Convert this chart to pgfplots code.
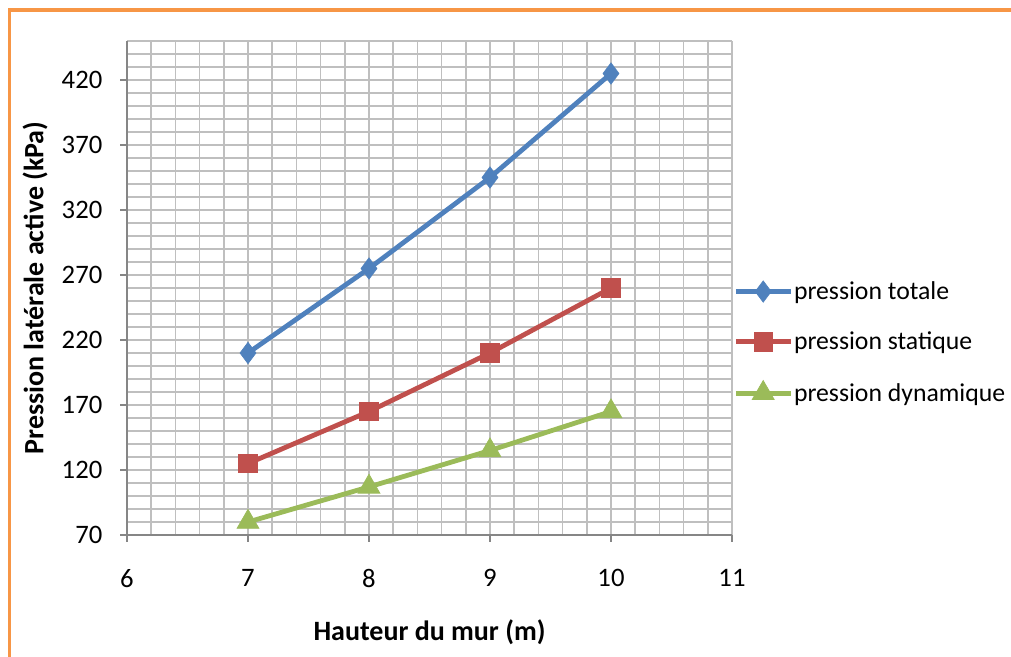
\documentclass[border=0pt]{standalone}
\usepackage{pgfplots}
\pgfplotsset{compat=1.18}
\usepackage{fontspec}
\setmainfont{Carlito}

\definecolor{cblue}{HTML}{4F81BD}
\definecolor{cred}{HTML}{C0504D}
\definecolor{cgreen}{HTML}{9BBB59}
\definecolor{corange}{HTML}{F79646}
\definecolor{gridgray}{HTML}{BFBFBF}
\definecolor{axisgray}{HTML}{868686}

\newcommand{\chartfont}{\fontsize{20}{24}\selectfont}
\newcommand{\legendfont}{\fontsize{19.3}{23}\selectfont}
\newcommand{\labelfont}{\fontsize{21}{25}\selectfont\bfseries}

\begin{document}
\begin{tikzpicture}
  \useasboundingbox (0,0) rectangle (758.25pt,492.75pt);
  \draw[corange, line width=2.4pt] (7.2pt,0) -- (7.2pt,485.25pt) -- (758.25pt,485.25pt);
  \begin{axis}[
      at={(95.25pt,91.5pt)}, anchor=south west,
      scale only axis,
      width=453.75pt, height=370.5pt,
      xmin=6, xmax=11, ymin=70, ymax=450,
      xtick={6,...,11},
      ytick={70,120,...,420},
      minor xtick={6,6.2,...,11},
      minor ytick={80,90,...,450},
      grid=both,
      major grid style={draw=gridgray, line width=1.1pt},
      minor grid style={draw=gridgray, line width=1.1pt},
      axis lines=left,
      axis line style={draw=axisgray, line width=1.1pt, -},
      tick align=outside,
      major tick length=5pt,
      minor tick length=0pt,
      tick style={draw=axisgray, line width=1pt},
      /pgf/number format/assume math mode=true,
      tick label style={font=\chartfont},
      xticklabel style={yshift=-17pt},
      yticklabel style={xshift=-10pt},
      xlabel={Hauteur du mur (m)},
      ylabel={Pression latérale active (kPa)},
      label style={font=\labelfont},
      xlabel style={at={(axis description cs:0.5,-0.1964)}, anchor=center},
      ylabel style={at={(axis description cs:-0.152,0.5)}, anchor=center},
      legend style={at={(1.002,0.39)}, anchor=west, draw=none, fill=none,
        font=\legendfont, row sep=21pt, inner sep=0pt,
        nodes={inner sep=0.8pt}},
      legend cell align=left,
      legend image code/.code={\draw[mark repeat=2,mark phase=2,#1]
        plot coordinates {(0pt,0pt) (20.5pt,0pt) (41pt,0pt)};},
    ]
    \addplot[cblue, line width=3.6pt, mark=diamond*, mark size=8pt,
      mark options={solid, line width=0.5pt}] coordinates {
      (7,210) (8,275) (9,345) (10,425)
    };
    \addlegendentry{pression totale}
    \addplot[cred, line width=3.6pt, mark=square*, mark size=7pt,
      mark options={solid, line width=0.5pt}] coordinates {
      (7,125) (8,165) (9,210) (10,260)
    };
    \addlegendentry{pression statique}
    \addplot[cgreen, line width=3.6pt, mark=triangle*, mark size=9.5pt,
      mark options={solid, line width=0.5pt}] coordinates {
      (7,80) (8,107) (9,135) (10,165)
    };
    \addlegendentry{pression dynamique}
  \end{axis}
\end{tikzpicture}
\end{document}
